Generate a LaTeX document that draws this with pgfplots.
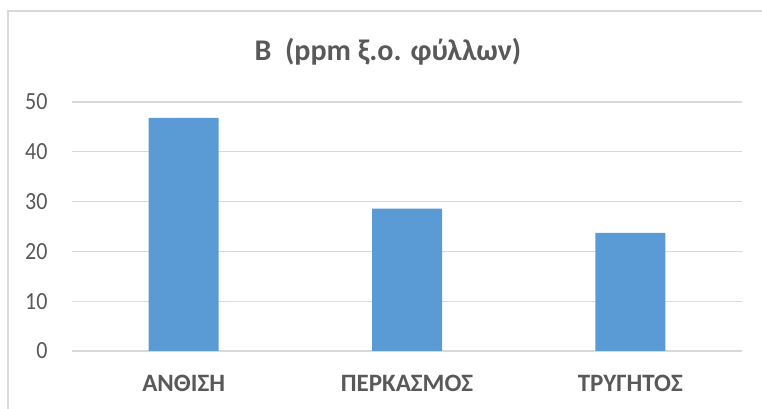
\documentclass[border=0pt]{standalone}
\usepackage{pgfplots}
\pgfplotsset{compat=1.18}
\usepackage{fontspec}
\setmainfont{Carlito}
\definecolor{barblue}{HTML}{5B9BD5}
\definecolor{gridgray}{HTML}{D9D9D9}
\definecolor{txtgray}{HTML}{595959}
\begin{document}
\begin{tikzpicture}[x=1pt,y=1pt]
\useasboundingbox (0,0) rectangle (762,409);
% chart area frame (top and left edges)
\draw[gridgray, line width=1.3pt] (8,0) -- (8,398) -- (762,398);
% title
\node[anchor=base, text=txtgray, font=\fontsize{30}{35}\selectfont\bfseries, inner sep=0pt] at (388,348) {B\ \ (ppm ξ.ο. φύλλων)};
\begin{axis}[
  at={(72pt,58pt)}, anchor=south west,
  scale only axis, width=670pt, height=249pt,
  ymin=0, ymax=50, ytick={0,10,...,50},
  xmin=-0.5, xmax=2.5,
  xtick=data, xticklabels={ΑΝΘΙΣΗ,ΠΕΡΚΑΣΜΟΣ,ΤΡΥΓΗΤΟΣ},
  axis line style={draw=none},
  major tick length=0pt,
  ymajorgrids, grid style={gridgray, line width=1.2pt},
  /pgf/number format/assume math mode=true,
  yticklabel={\scalebox{1}[1.12]{\pgfmathprintnumber{\tick}}},
  yticklabel style={text=txtgray, font=\fontsize{22}{26}\selectfont, xshift=-21pt},
  xticklabel style={text=txtgray, font=\fontsize{25}{29}\selectfont\bfseries, anchor=base, yshift=-41pt},
  clip=false,
]
\addplot[ybar, bar width=70pt, fill=barblue, draw=none] coordinates {(0,46.8) (1,28.6) (2,23.7)};
\end{axis}
\end{tikzpicture}
\end{document}
